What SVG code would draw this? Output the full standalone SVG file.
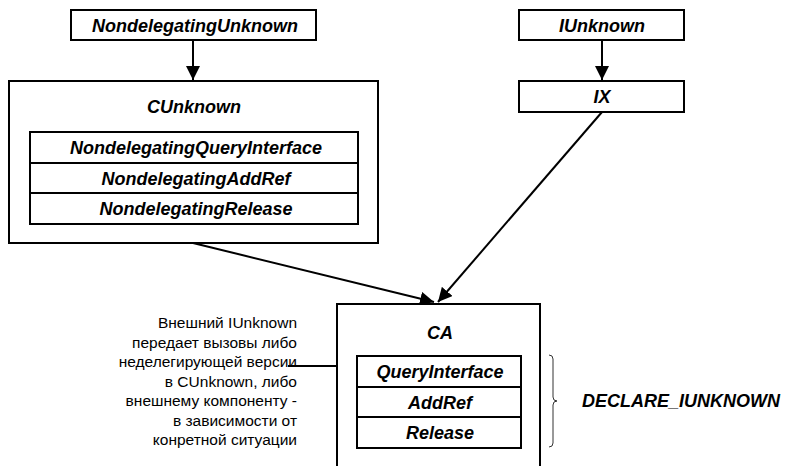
<svg xmlns="http://www.w3.org/2000/svg" width="785" height="466" viewBox="0 0 785 466">
<style>
rect{fill:#fff;stroke:#000;stroke-width:2}
.b{font-family:"Liberation Sans",Arial,sans-serif;font-weight:bold;font-style:italic;font-size:18px;text-anchor:middle}
.r{font-family:"Liberation Sans",Arial,sans-serif;font-size:15.5px;text-anchor:end}
.c{stroke:#000;stroke-width:2;fill:none}
</style>
<defs>
<marker id="ah" viewBox="0 0 10 10" refX="10" refY="5" markerWidth="7" markerHeight="7" orient="auto" markerUnits="strokeWidth">
<path d="M0,0 L10,5 L0,10 z" fill="#000"/>
</marker>
</defs>
<rect x="-10" y="-10" width="805" height="486" style="stroke:none"/>
<g id="connectors">
<line class="c" x1="193" y1="40" x2="193" y2="80" marker-end="url(#ah)"/>
<line class="c" x1="602" y1="40" x2="602" y2="80" marker-end="url(#ah)"/>
<line class="c" x1="602" y1="112" x2="438" y2="302" marker-end="url(#ah)"/>
<line class="c" x1="193" y1="243" x2="434" y2="302" marker-end="url(#ah)"/>
<line class="c" x1="288" y1="366" x2="337" y2="366"/>
</g>
<g id="NondelegatingUnknown">
<rect x="71" y="10" width="245" height="30"/>
<text class="b" x="195" y="31.5">NondelegatingUnknown</text>
</g>
<g id="IUnknown">
<rect x="519" y="10" width="165" height="30"/>
<text class="b" x="602" y="31.5">IUnknown</text>
</g>
<g id="IX">
<rect x="519" y="81" width="165" height="31"/>
<text class="b" x="602" y="103">IX</text>
</g>
<g id="CUnknown">
<rect x="9" y="81" width="369" height="162"/>
<text class="b" x="194" y="113">CUnknown</text>
<rect x="30" y="132" width="328" height="31"/>
<rect x="30" y="163" width="328" height="30"/>
<rect x="30" y="193" width="328" height="31"/>
<text class="b" x="196" y="154">NondelegatingQueryInterface</text>
<text class="b" x="196" y="184.5">NondelegatingAddRef</text>
<text class="b" x="196" y="215">NondelegatingRelease</text>
</g>
<g id="CA">
<rect x="337" y="304" width="203" height="180"/>
<text class="b" x="440" y="339">CA</text>
<rect x="357" y="356" width="164" height="31"/>
<rect x="357" y="387" width="164" height="30"/>
<rect x="357" y="417" width="164" height="31"/>
<text class="b" x="440" y="378">QueryInterface</text>
<text class="b" x="440" y="408.5">AddRef</text>
<text class="b" x="440" y="439">Release</text>
</g>
<g id="note">
<text class="r" x="297" y="328">Внешний IUnknown</text>
<text class="r" x="297" y="347.5">передает вызовы либо</text>
<text class="r" x="297" y="367">неделегирующей версии</text>
<text class="r" x="297" y="386.5">в CUnknown, либо</text>
<text class="r" x="297" y="406">внешнему компоненту -</text>
<text class="r" x="297" y="425.5">в зависимости от</text>
<text class="r" x="297" y="445">конретной ситуации</text>
</g>
<g id="brace">
<path d="M549,355 Q553,355 553,359 L553,397 Q553,401 557,401 Q553,401 553,405 L553,443 Q553,447 549,447" fill="none" stroke="#333" stroke-width="1"/>
<text class="b" x="582" y="407" style="text-anchor:start">DECLARE_IUNKNOWN</text>
</g>
</svg>
